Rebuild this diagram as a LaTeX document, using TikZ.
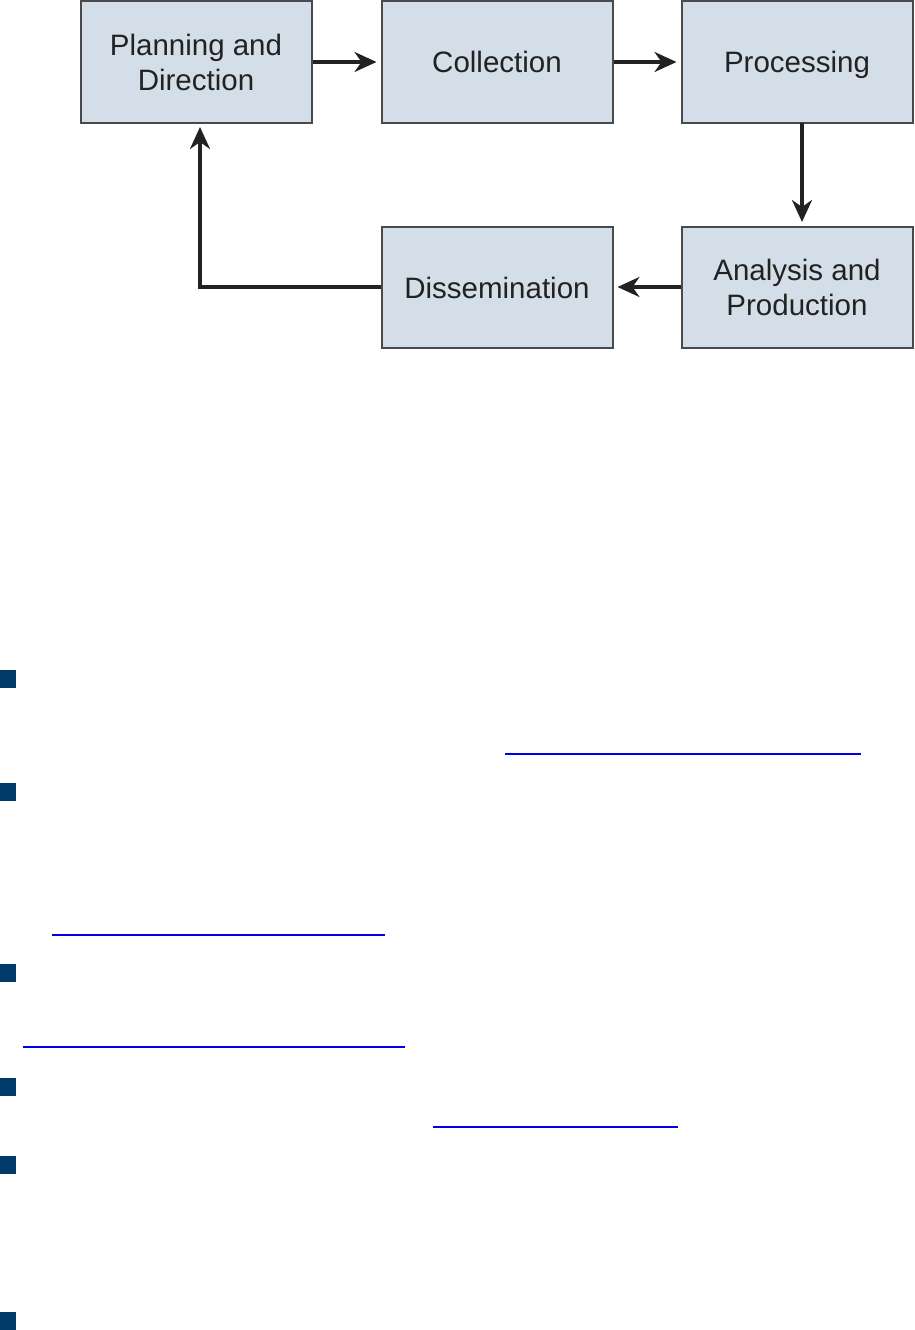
\documentclass[tikz,border=0pt]{standalone}
\usepackage{fontspec}
\setmainfont{Liberation Sans}
\usetikzlibrary{arrows.meta}
\definecolor{boxfill}{HTML}{D4DEE8}
\definecolor{boxline}{HTML}{4A4A4A}
\definecolor{txt}{HTML}{222222}
\definecolor{bulletc}{HTML}{003A6B}
\definecolor{linkc}{HTML}{0000E6}
\newcommand\mstrut{\rule[-6.5pt]{0pt}{35pt}}
\tikzset{
  stagebox/.style={draw=boxline, line width=2pt, fill=boxfill, minimum width=231pt, minimum height=121pt,
    align=center, text=txt, font=\fontsize{29.5}{35}\selectfont, inner sep=0pt},
  flow/.style={draw=txt, line width=3.2pt, -{Stealth[length=22pt,width=20pt,inset=7pt]}, shorten >=4pt},
  bulletsq/.style={fill=bulletc, draw=none},
  linkline/.style={draw=linkc, line width=1.8pt},
}
\begin{document}
\begin{tikzpicture}[x=1pt,y=-1pt]
\useasboundingbox (0,0) rectangle (915,1330);
\fill[white] (0,0) rectangle (915,1330);
\node[stagebox] (P) at (196,62) {\mstrut Planning and\\\mstrut Direction};
\node[stagebox] (C) at (497,62) {\mstrut Collection};
\node[stagebox] (Pr) at (797,62) {\mstrut Processing};
\node[stagebox] (D) at (497,287) {\mstrut Dissemination};
\node[stagebox] (A) at (797,287) {\mstrut Analysis and\\\mstrut Production};
\coordinate (Pin) at (200,123);
\coordinate (Prout) at (802,123);
\coordinate (Ain) at (802,226);
\draw[flow] (P) -- (C);
\draw[flow] (C) -- (Pr);
\draw[flow] (Prout) -- (Ain);
\draw[flow] (A) -- (D);
\draw[flow] (D.west) -| (Pin);
% bullets
\foreach \yy/\nm in {670/b1,783/b2,964/b3,1078/b4,1156/b5,1312/b6}{
  \path[bulletsq] (0,\yy) rectangle (16,\yy+18);
}
% link underlines
\draw[linkline] (505,754) -- (861,754);
\draw[linkline] (52,935) -- (385,935);
\draw[linkline] (23,1047) -- (405,1047);
\draw[linkline] (433,1127) -- (678,1127);
\end{tikzpicture}
\end{document}
